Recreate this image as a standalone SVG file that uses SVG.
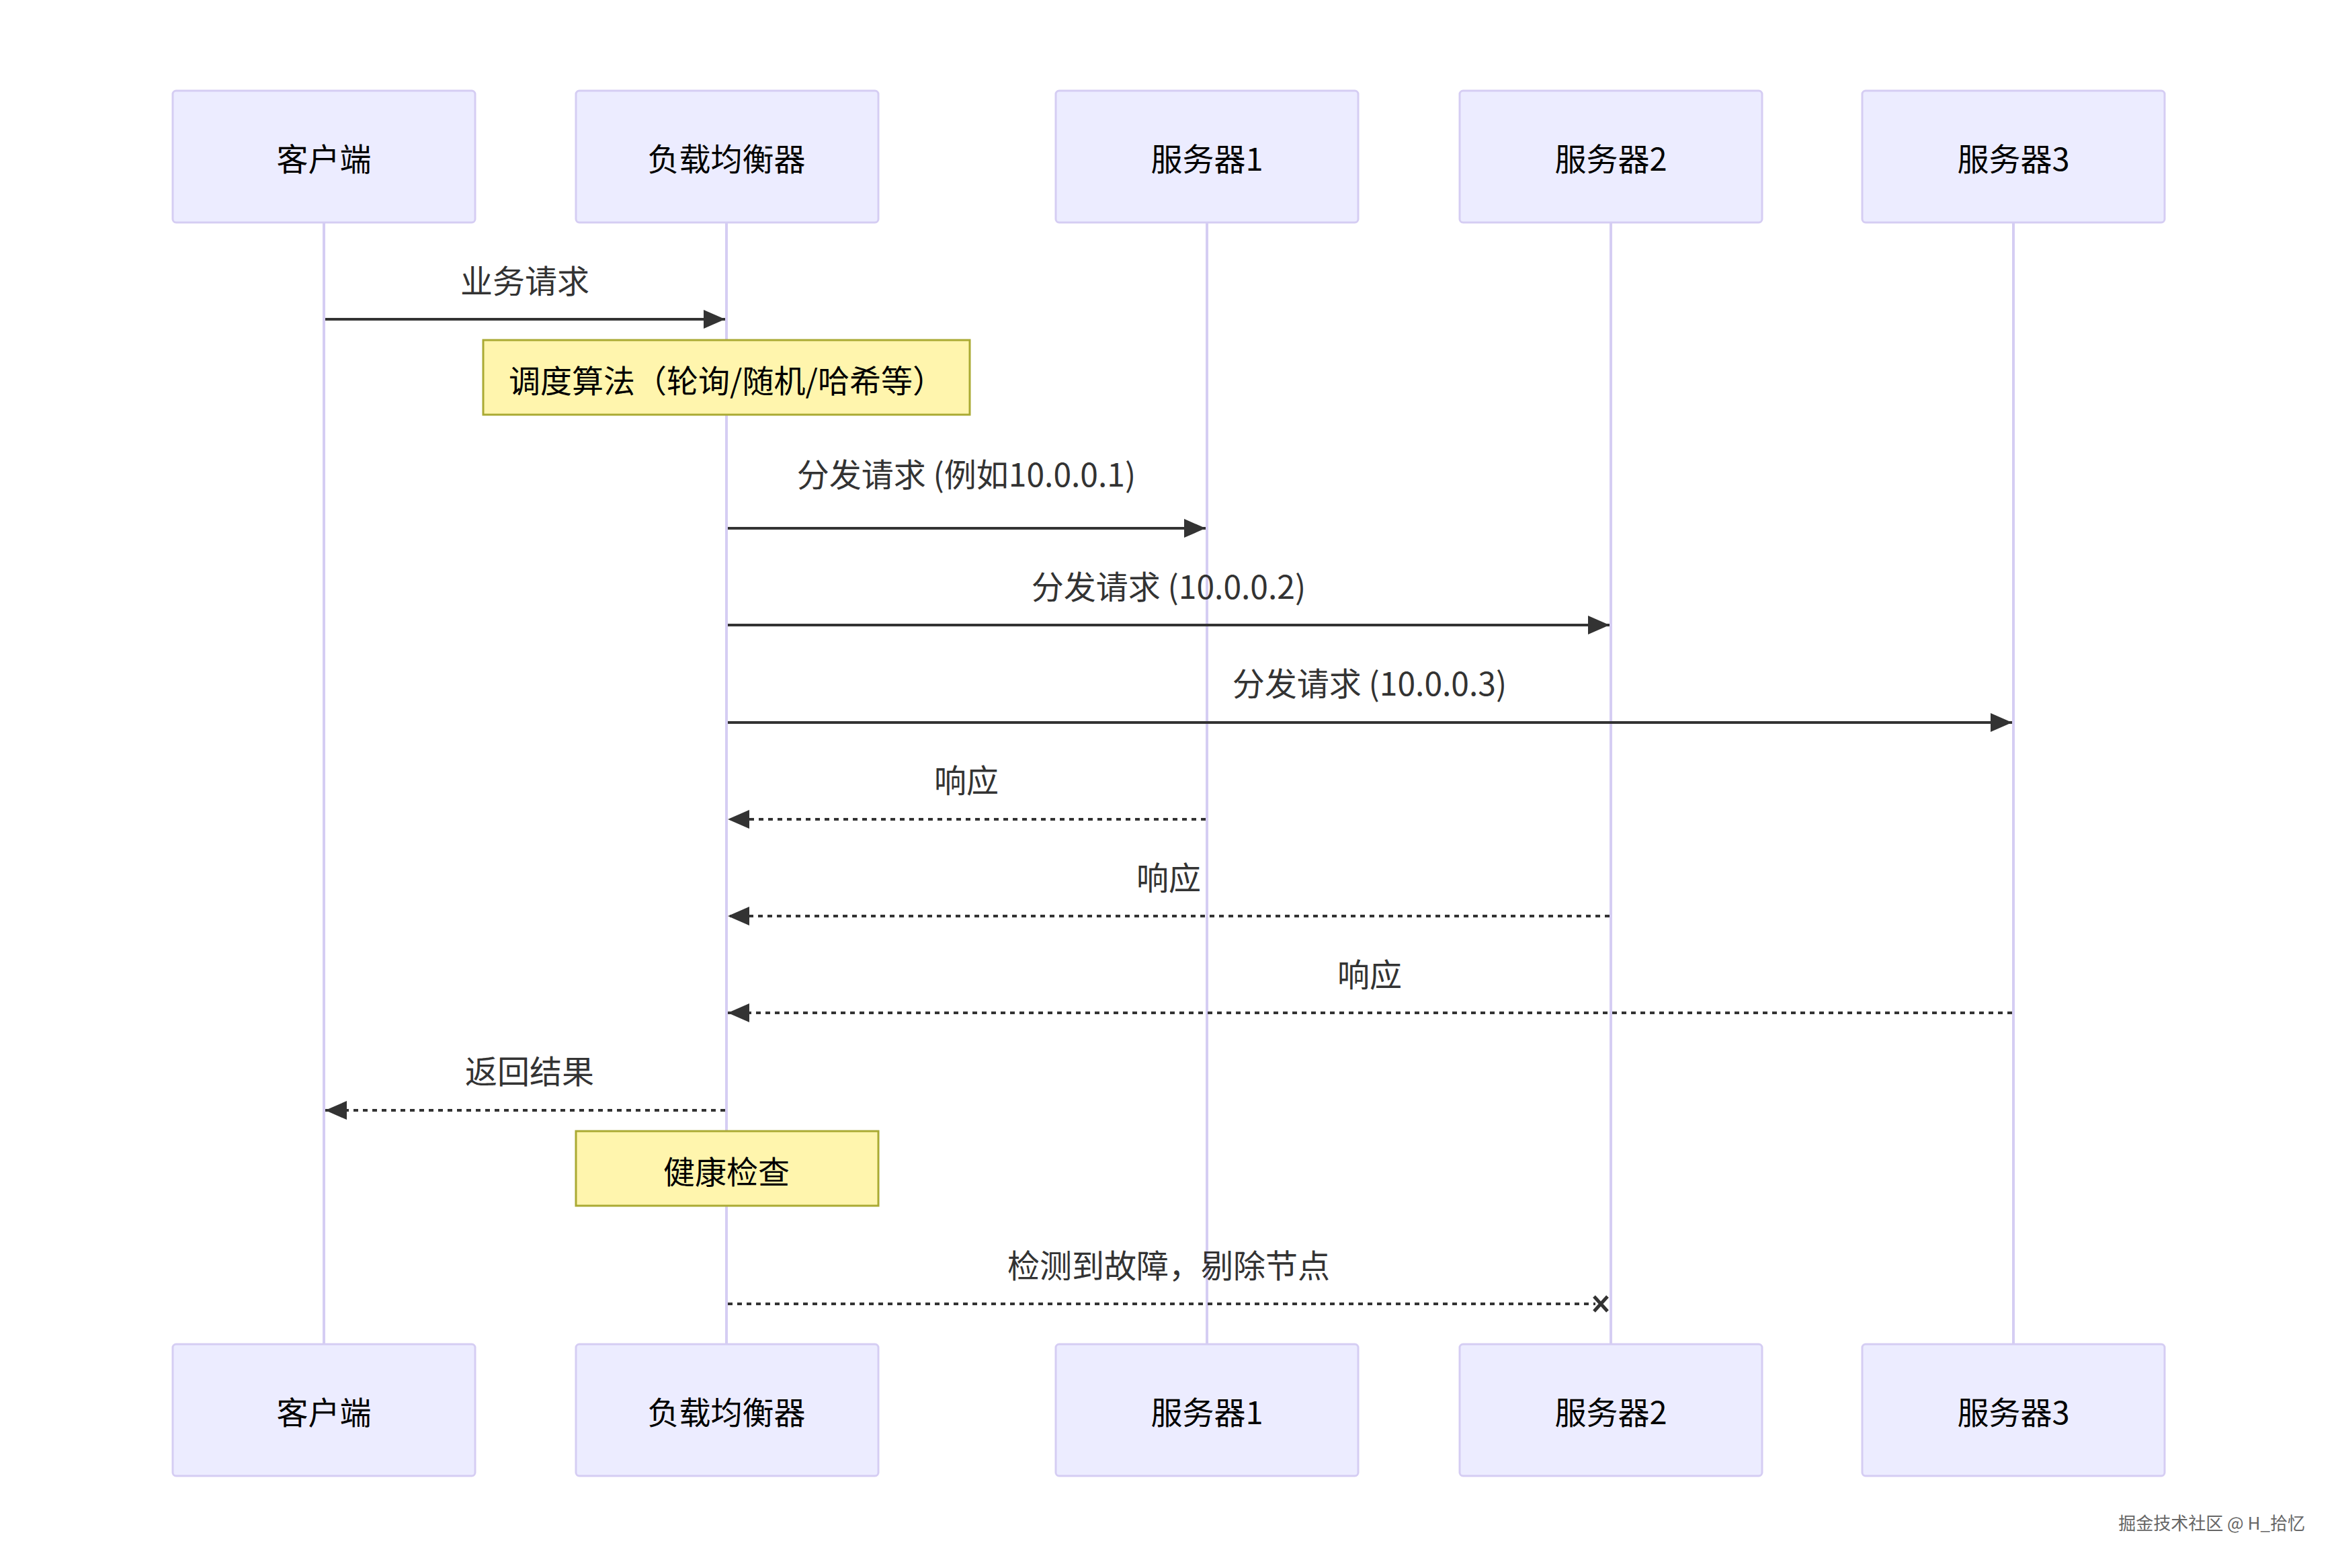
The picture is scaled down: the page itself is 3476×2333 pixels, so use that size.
<svg xmlns="http://www.w3.org/2000/svg" width="3476" height="2333" viewBox="0 0 3476 2333">
<style>
.actor{fill:#ECECFF;stroke:#d5cdf3;stroke-width:3}
.note{fill:#fff5ad;stroke:#aaaa33;stroke-width:3}
.life{stroke:#d5cdf3;stroke-width:4}
.t{font-family:"Noto Sans CJK SC","Noto Sans",sans-serif;font-size:48px;fill:#333;text-anchor:middle}
.at{font-family:"Noto Sans CJK SC","Noto Sans",sans-serif;font-size:47px;fill:#000;text-anchor:middle;dominant-baseline:central}
.m{stroke:#333;stroke-width:4;fill:none}
.d{stroke-dasharray:7,7}
</style>
<defs>
<marker id="arr" viewBox="0 0 10 10" refX="10" refY="5" markerWidth="32" markerHeight="28" markerUnits="userSpaceOnUse" orient="auto" preserveAspectRatio="none"><path d="M0,0L10,5L0,10z" fill="#333"/></marker>
</defs>
<rect width="3476" height="2333" fill="#fff"/>
<g id="lifelines">
<line class="life" x1="482" y1="331" x2="482" y2="2000"/>
<line class="life" x1="1081" y1="331" x2="1081" y2="2000"/>
<line class="life" x1="1796" y1="331" x2="1796" y2="2000"/>
<line class="life" x1="2397" y1="331" x2="2397" y2="2000"/>
<line class="life" x1="2996" y1="331" x2="2996" y2="2000"/>
</g>
<g id="client"><rect class="actor" x="257" y="135" width="450" height="196" rx="5"/><text class="at" x="482" y="233">客户端</text></g>
<g id="lb"><rect class="actor" x="857" y="135" width="450" height="196" rx="5"/><text class="at" x="1081" y="233">负载均衡器</text></g>
<g id="s1"><rect class="actor" x="1571" y="135" width="450" height="196" rx="5"/><text class="at" x="1796" y="233">服务器1</text></g>
<g id="s2"><rect class="actor" x="2172" y="135" width="450" height="196" rx="5"/><text class="at" x="2397" y="233">服务器2</text></g>
<g id="s3"><rect class="actor" x="2771" y="135" width="450" height="196" rx="5"/><text class="at" x="2996" y="233">服务器3</text></g>
<g id="client-b"><rect class="actor" x="257" y="2000" width="450" height="196" rx="5"/><text class="at" x="482" y="2098">客户端</text></g>
<g id="lb-b"><rect class="actor" x="857" y="2000" width="450" height="196" rx="5"/><text class="at" x="1081" y="2098">负载均衡器</text></g>
<g id="s1-b"><rect class="actor" x="1571" y="2000" width="450" height="196" rx="5"/><text class="at" x="1796" y="2098">服务器1</text></g>
<g id="s2-b"><rect class="actor" x="2172" y="2000" width="450" height="196" rx="5"/><text class="at" x="2397" y="2098">服务器2</text></g>
<g id="s3-b"><rect class="actor" x="2771" y="2000" width="450" height="196" rx="5"/><text class="at" x="2996" y="2098">服务器3</text></g>
<g id="note1"><rect class="note" x="719" y="506" width="724" height="111"/><text class="at" x="1081" y="563">调度算法（轮询/随机/哈希等）</text></g>
<g id="note2"><rect class="note" x="857" y="1683" width="450" height="111"/><text class="at" x="1081" y="1740">健康检查</text></g>
<g id="connectors">
<line class="m" x1="484" y1="475" x2="1079" y2="475" marker-end="url(#arr)"/>
<line class="m" x1="1083" y1="786" x2="1794" y2="786" marker-end="url(#arr)"/>
<line class="m" x1="1083" y1="930" x2="2395" y2="930" marker-end="url(#arr)"/>
<line class="m" x1="1083" y1="1075" x2="2994" y2="1075" marker-end="url(#arr)"/>
<line class="m d" x1="1794" y1="1219" x2="1083" y2="1219" marker-end="url(#arr)"/>
<line class="m d" x1="2395" y1="1363" x2="1083" y2="1363" marker-end="url(#arr)"/>
<line class="m d" x1="2994" y1="1507" x2="1083" y2="1507" marker-end="url(#arr)"/>
<line class="m d" x1="1079" y1="1652" x2="484" y2="1652" marker-end="url(#arr)"/>
<line class="m d" x1="1083" y1="1940" x2="2374" y2="1940"/>
<path class="m" style="stroke-width:5" d="M2372,1929L2392,1951M2392,1929L2372,1951"/>
</g>
<g id="labels">
<text class="t" x="1438" y="724">分发请求 (例如10.0.0.1)</text>
<text class="t" x="781" y="436">业务请求</text>
<text class="t" x="1739" y="891">分发请求 (10.0.0.2)</text>
<text class="t" x="2038" y="1035">分发请求 (10.0.0.3)</text>
<text class="t" x="1438" y="1179">响应</text>
<text class="t" x="1739" y="1324">响应</text>
<text class="t" x="2038" y="1468">响应</text>
<text class="t" x="788" y="1612">返回结果</text>
<text class="t" x="1739" y="1901">检测到故障，剔除节点</text>
</g>
<text x="3430" y="2276" style="font-family:'Noto Sans CJK SC',sans-serif;font-size:26px;fill:#666;text-anchor:end">掘金技术社区 @ H_拾忆</text>
</svg>
